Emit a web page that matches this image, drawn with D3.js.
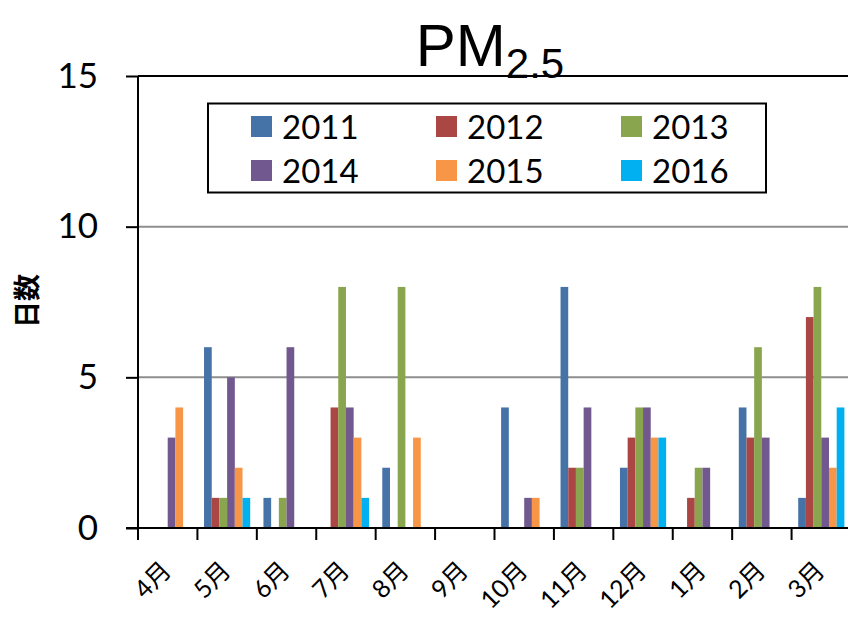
<!DOCTYPE html>
<html>
<head>
<meta charset="utf-8">
<script src="https://cdn.jsdelivr.net/npm/d3@7"></script>
<style>
  html, body { margin: 0; padding: 0; background: #fff; }
  svg { display: block; }
</style>
</head>
<body>
<svg id="chart" width="848" height="618"></svg>
<script>
// Monthly counts of PM2.5 days, fiscal year order (April to March)
const months = ["4月", "5月", "6月", "7月", "8月", "9月", "10月", "11月", "12月", "1月", "2月", "3月"];
const years = ["2011", "2012", "2013", "2014", "2015", "2016"];
const days2011 = [0, 6, 1, 0, 2, 0, 4, 8, 2, 0, 4, 1];
const days2012 = [0, 1, 0, 4, 0, 0, 0, 2, 3, 1, 3, 7];
const days2013 = [0, 1, 1, 8, 8, 0, 0, 2, 4, 2, 6, 8];
const days2014 = [3, 5, 6, 4, 0, 0, 1, 4, 4, 2, 3, 3];
const days2015 = [4, 2, 0, 3, 3, 0, 1, 0, 3, 0, 0, 2];
const days2016 = [0, 1, 0, 1, 0, 0, 0, 0, 3, 0, 0, 4];
const yTicks = [0, 5, 10, 15];
const colors = ["#4572A7", "#AA4643", "#89A54E", "#71588F", "#F79646", "#00B0F0"];

const seriesValues = [days2011, days2012, days2013, days2014, days2015, days2016];
const rows = months.map((m, i) => ({
  month: m,
  values: years.map((y, j) => ({ year: y, value: seriesValues[j][i] }))
}));

const svg = d3.select("#chart");
const numFont = "Lato, 'Liberation Sans', 'Noto Sans CJK JP', sans-serif";

const x = d3.scaleBand().domain(months).range([138, 851]).paddingInner(0).paddingOuter(0);
const x1 = d3.scaleBand().domain(years).range([0, x.bandwidth()]).paddingInner(0).paddingOuter(0.86);
const y = d3.scaleLinear().domain([0, 15]).range([528, 76]);
const color = d3.scaleOrdinal().domain(years).range(colors);

// horizontal gridlines (top one drawn black as the plot's upper edge)
svg.append("g")
  .selectAll("line")
  .data(yTicks.filter(t => t > 0))
  .join("line")
  .attr("x1", 138).attr("x2", 848)
  .attr("y1", d => y(d)).attr("y2", d => y(d))
  .attr("stroke", d => d === 15 ? "#000" : "#8e8e8e")
  .attr("stroke-width", 2);

// bars
svg.append("g")
  .selectAll("g")
  .data(rows)
  .join("g")
  .attr("transform", d => `translate(${x(d.month)},0)`)
  .selectAll("rect")
  .data(d => d.values.filter(v => v.value > 0))
  .join("rect")
  .attr("x", d => x1(d.year))
  .attr("width", x1.bandwidth())
  .attr("y", d => y(d.value))
  .attr("height", d => y(0) - y(d.value))
  .attr("fill", d => color(d.year));

// y axis
const yAxis = svg.append("g")
  .attr("transform", "translate(138,0)")
  .call(d3.axisLeft(y).tickValues(yTicks).tickSize(12).tickSizeOuter(0).tickPadding(28));
yAxis.select(".domain").attr("stroke", "#000").attr("stroke-width", 2)
  .attr("d", `M0,${y(15)}V${y(0) + 10}`);
yAxis.selectAll(".tick line").attr("stroke", "#000").attr("stroke-width", 2);
yAxis.selectAll(".tick text")
  .attr("font-family", numFont)
  .attr("font-size", 35)
  .attr("fill", "#000");

// x axis line and band boundary ticks
svg.append("line")
  .attr("x1", 126).attr("x2", 848)
  .attr("y1", y(0)).attr("y2", y(0))
  .attr("stroke", "#000").attr("stroke-width", 2);
svg.append("g")
  .selectAll("line")
  .data(months)
  .join("line")
  .attr("x1", d => x(d)).attr("x2", d => x(d))
  .attr("y1", y(0)).attr("y2", y(0) + 12)
  .attr("stroke", "#000").attr("stroke-width", 2);

// month labels
svg.append("g")
  .selectAll("text")
  .data(months)
  .join("text")
  .attr("transform", d => `translate(${x(d) + x.bandwidth() / 2 + 5},572) rotate(-45)`)
  .attr("text-anchor", "end")
  .attr("font-family", numFont)
  .attr("font-size", 25)
  .attr("fill", "#000")
  .text(d => d);

// y axis title
svg.append("text")
  .attr("transform", "translate(37,301) rotate(-90)")
  .attr("text-anchor", "middle")
  .attr("font-family", "'Noto Sans CJK JP', sans-serif")
  .attr("font-weight", "bold")
  .attr("font-size", 27)
  .attr("fill", "#000")
  .text("日数");

// title
const title = svg.append("text")
  .attr("x", 490).attr("y", 66)
  .attr("text-anchor", "middle")
  .attr("font-family", "'Liberation Sans', Arial, sans-serif")
  .attr("fill", "#000");
title.append("tspan").attr("font-size", 60).text("PM");
title.append("tspan").attr("font-size", 42).attr("dy", 12).text("2.5");

// legend
const legend = svg.append("g");
legend.append("rect")
  .attr("x", 208).attr("y", 103.5)
  .attr("width", 558).attr("height", 89)
  .attr("fill", "#fff").attr("stroke", "#000").attr("stroke-width", 2);
const colX = [251, 436, 621];
const rowY = [126.5, 170.5];
const items = legend.selectAll("g")
  .data(years)
  .join("g")
  .attr("transform", (d, i) => `translate(${colX[i % 3]},${rowY[Math.floor(i / 3)]})`);
items.append("rect")
  .attr("x", 0).attr("y", -10.5)
  .attr("width", 21).attr("height", 21)
  .attr("fill", d => color(d));
items.append("text")
  .attr("x", 31).attr("y", 12)
  .attr("font-family", numFont)
  .attr("font-size", 33)
  .attr("fill", "#000")
  .text(d => d);
</script>
</body>
</html>
